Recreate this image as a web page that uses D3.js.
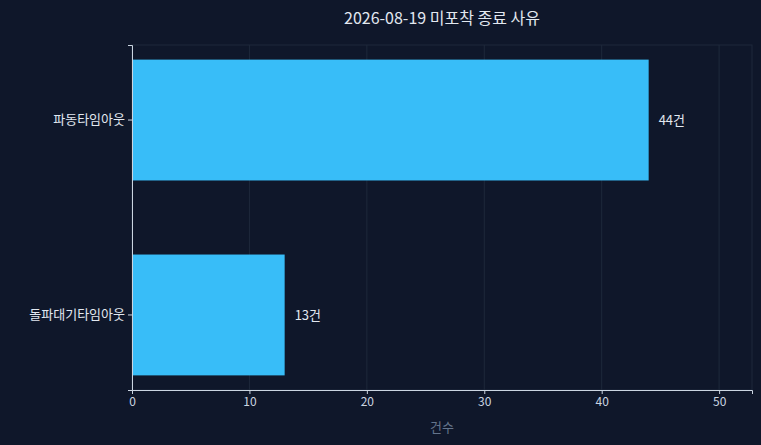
<!DOCTYPE html>
<html><head><meta charset="utf-8">
<script src="https://cdn.jsdelivr.net/npm/d3@7"></script>
<style>body{margin:0;background:#0f172a;}text{font-family:"Noto Sans CJK KR","Noto Sans",sans-serif;}</style>
</head><body><svg id="c" width="761" height="445"></svg>
<script>
const categories = ["파동타임아웃", "돌파대기타임아웃"];
const values = [44, 13];
const xTicks = [0, 10, 20, 30, 40, 50];
const title = "2026-08-19 미포착 종료 사유";
const xLabel = "건수";

const svg = d3.select("#c");
svg.append("rect").attr("width",761).attr("height",445).attr("fill","#0f172a");
const L=132,R=752,T=45,B=390;
const x = d3.scaleLinear().domain([0, d3.max(values)*1.2]).range([L,R]);
const y = d3.scaleBand().domain(categories).range([T,B]).paddingInner(0.38).paddingOuter(0.075);

svg.append("g").selectAll("line").data(xTicks).join("line")
  .attr("x1",d=>x(d)).attr("x2",d=>x(d)).attr("y1",T).attr("y2",B)
  .attr("stroke","#1e293b").attr("stroke-width",1);
svg.append("rect").attr("x",L).attr("y",T).attr("width",R-L).attr("height",B-T)
  .attr("fill","none").attr("stroke","#1e293b");

svg.append("g").selectAll("rect").data(values).join("rect")
  .attr("x",x(0)).attr("y",(d,i)=>y(categories[i])).attr("width",d=>x(d)-x(0))
  .attr("height",y.bandwidth()).attr("fill","#38bdf8");

svg.append("g").selectAll("text").data(values).join("text")
  .attr("x",d=>x(d)+10).attr("y",(d,i)=>y(categories[i])+y.bandwidth()/2)
  .attr("dy","0.35em").attr("fill","#e2e8f0").attr("font-size",13).text(d=>d+"건");

const xa = svg.append("g").attr("transform",`translate(0,${B})`).call(d3.axisBottom(x).tickValues(xTicks).tickSize(4));
xa.select(".domain").attr("stroke","#cbd5e1");
xa.selectAll("line").attr("stroke","#cbd5e1");
xa.selectAll("text").attr("fill","#cbd5e1").attr("font-size",12);

const ya = svg.append("g").attr("transform",`translate(${L},0)`).call(d3.axisLeft(y).tickSize(4));
ya.select(".domain").attr("stroke","#cbd5e1");
ya.selectAll("line").attr("stroke","#cbd5e1");
ya.selectAll("text").attr("fill","#e2e8f0").attr("font-size",13);

svg.append("text").attr("x",(L+R)/2).attr("y",24).attr("text-anchor","middle")
  .attr("fill","#e2e8f0").attr("font-size",16).text(title);
svg.append("text").attr("x",(L+R)/2).attr("y",432).attr("text-anchor","middle")
  .attr("fill","#64748b").attr("font-size",13).text(xLabel);
</script></body></html>
